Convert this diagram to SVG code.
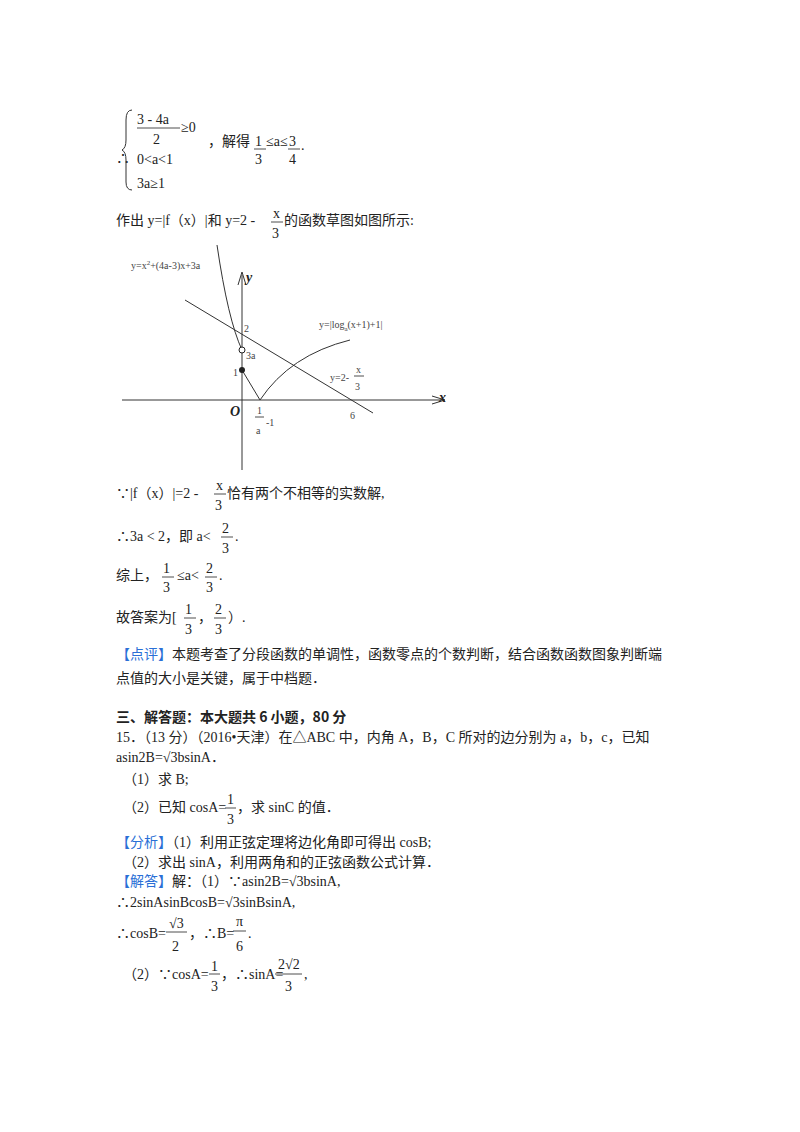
<svg xmlns="http://www.w3.org/2000/svg" width="800" height="1132" viewBox="0 0 800 1132">
<style>
text{font-family:"Liberation Serif","Noto Sans CJK SC",serif;font-size:14px;fill:#222}
.s{font-size:10px;fill:#444}
.b{font-family:"Noto Sans CJK SC",sans-serif;font-weight:bold;font-size:14px}
.bl{fill:#2a6fd6}
.fr{stroke:#222;stroke-width:0.8}
.g{stroke:#333;stroke-width:1;fill:none}
</style>
<rect width="800" height="1132" fill="#fff"/>
<text x="116" y="163">∴</text>
<path d="M132 110 Q126 110 126 120 V140 Q126 148 122 150 Q126 152 126 160 V182 Q126 190 132 190" class="g"/>
<text x="137" y="124">3 - 4a</text><line x1="137" y1="128" x2="180" y2="128" class="fr"/><text x="153" y="144">2</text>
<text x="181" y="132">≥0</text>
<text x="137" y="164">0&lt;a&lt;1</text>
<text x="137" y="188">3a≥1</text>
<text x="208" y="146">，解得</text>
<text x="255" y="146" font-size="13">1</text><line x1="254" y1="149" x2="266" y2="149" class="fr"/><text x="255" y="164">3</text>
<text x="266" y="146" font-size="12">≤a≤</text>
<text x="289" y="146">3</text><line x1="288" y1="149" x2="300" y2="149" class="fr"/><text x="289" y="164">4</text><text x="301" y="150">.</text>
<text x="116" y="225">作出 y=|f（x）|和 y=2 -</text><text x="273" y="218" font-size="11">x</text><line x1="271" y1="222" x2="283" y2="222" class="fr"/><text x="272" y="238">3</text><text x="284" y="225">的函数草图如图所示:</text>
<g id="graph">
<line x1="242" y1="470" x2="242" y2="275" class="g"/><path d="M238 285 L242 272 L246 285" class="g"/>
<line x1="122" y1="400" x2="443" y2="400" class="g"/><path d="M432 396 L445 400 L432 404" class="g"/>
<line x1="185" y1="300" x2="373" y2="413" class="g"/>
<path d="M217 245 Q228 320 242 350" class="g"/>
<path d="M242 370 L260 400 Q290 355 350 340" class="g"/>
<circle cx="242" cy="350" r="3" fill="#fff" stroke="#222"/>
<circle cx="242" cy="370" r="3" fill="#222"/>
<text class="s" x="131" y="269">y=x<tspan dy="-4" font-size="7">2</tspan><tspan dy="4">+(4a-3)x+3a</tspan></text>
<text class="s" x="319" y="328">y=|log<tspan dy="3" font-size="7">a</tspan><tspan dy="-3">(x+1)+1|</tspan></text>
<text class="s" x="330" y="381">y=2-</text><text class="s" x="356" y="373">x</text><line x1="354" y1="376" x2="364" y2="376" class="fr"/><text class="s" x="355" y="390">3</text>
<text class="s" x="244" y="332">2</text><text class="s" x="246" y="359">3a</text><text class="s" x="233" y="376">1</text>
<text x="230" y="416" font-weight="bold" font-style="italic" font-size="16">O</text>
<text class="s" x="257" y="414">1</text><line x1="255" y1="417" x2="264" y2="417" class="fr"/><text class="s" x="256" y="434">a</text><text class="s" x="266" y="426">-1</text>
<text class="s" x="350" y="419">6</text>
<text x="439" y="402" font-weight="bold" font-style="italic" font-size="16">x</text>
<text x="246" y="282" font-weight="bold" font-style="italic" font-size="15">y</text>
</g>
<text x="116" y="498">∵|f（x）|=2 -</text><text x="216" y="490" font-size="11">x</text><line x1="214" y1="494" x2="226" y2="494" class="fr"/><text x="215" y="510">3</text><text x="227" y="498">恰有两个不相等的实数解,</text>
<text x="116" y="541">∴3a &lt; 2，即 a&lt;</text><text x="222" y="533">2</text><line x1="221" y1="537" x2="233" y2="537" class="fr"/><text x="222" y="553">3</text><text x="235" y="541">.</text>
<text x="116" y="580">综上，</text><text x="163" y="573">1</text><line x1="162" y1="577" x2="174" y2="577" class="fr"/><text x="163" y="592">3</text><text x="177" y="580">≤a&lt;</text><text x="206" y="573">2</text><line x1="205" y1="577" x2="217" y2="577" class="fr"/><text x="206" y="592">3</text><text x="219" y="580">.</text>
<text x="116" y="622">故答案为[</text><text x="185" y="614">1</text><line x1="184" y1="618" x2="196" y2="618" class="fr"/><text x="185" y="634">3</text><text x="198" y="622">，</text><text x="215" y="614">2</text><line x1="214" y1="618" x2="226" y2="618" class="fr"/><text x="215" y="634">3</text><text x="228" y="622">）.</text>
<text x="116" y="659"><tspan class="bl">【点评】</tspan>本题考查了分段函数的单调性，函数零点的个数判断，结合函数函数图象判断端</text>
<text x="116" y="683">点值的大小是关键，属于中档题．</text>
<text x="116" y="722" class="b">三、解答题：本大题共 6 小题，80 分</text>
<text x="116" y="742">15．（13 分）（2016•天津）在△ABC 中，内角 A，B，C 所对的边分别为 a，b，c，已知</text>
<text x="116" y="762">asin2B=√3bsinA．</text>
<text x="123" y="784">（1）求 B;</text>
<text x="123" y="812">（2）已知 cosA=</text><text x="227" y="804">1</text><line x1="225" y1="808" x2="236" y2="808" class="fr"/><text x="227" y="824">3</text><text x="237" y="812">，求 sinC 的值．</text>
<text x="116" y="847"><tspan class="bl">【分析】</tspan>（1）利用正弦定理将边化角即可得出 cosB;</text>
<text x="123" y="867">（2）求出 sinA，利用两角和的正弦函数公式计算．</text>
<text x="116" y="886"><tspan class="bl">【解答】</tspan>解：（1）∵asin2B=√3bsinA,</text>
<text x="116" y="907">∴2sinAsinBcosB=√3sinBsinA,</text>
<text x="116" y="938">∴cosB=</text><text x="169" y="928">√3</text><line x1="166" y1="932" x2="187" y2="932" class="fr"/><text x="172" y="951">2</text><text x="189" y="938">，∴B=</text><text x="236" y="926">π</text><line x1="233" y1="931" x2="246" y2="931" class="fr"/><text x="236" y="951">6</text><text x="248" y="938">.</text>
<text x="123" y="979">（2）∵cosA=</text><text x="211" y="971">1</text><line x1="209" y1="974" x2="220" y2="974" class="fr"/><text x="211" y="991">3</text><text x="221" y="979">，∴sinA=</text><text x="278" y="969">2√2</text><line x1="275" y1="974" x2="302" y2="974" class="fr"/><text x="285" y="991">3</text><text x="304" y="979">,</text>
</svg>
